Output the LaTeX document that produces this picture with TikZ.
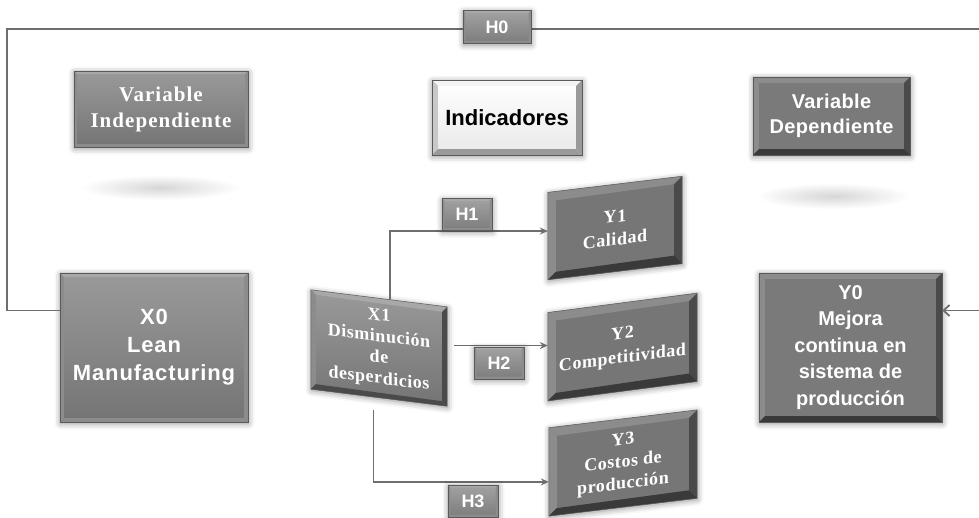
\documentclass[tikz,border=0pt]{standalone}
\usepackage{fontspec}
\setmainfont{Liberation Serif}
\setsansfont{Liberation Sans}
\usetikzlibrary{calc,arrows.meta,shadows.blur}
\definecolor{conncol}{HTML}{6E6E6E}
\definecolor{outl}{HTML}{5A5A5A}
\definecolor{faceTop}{HTML}{9A9A9A}
\definecolor{faceBot}{HTML}{747474}
\definecolor{dface}{HTML}{7A7A7A}
\definecolor{yface}{HTML}{767676}
\definecolor{hTop}{HTML}{A2A2A2}
\definecolor{hBot}{HTML}{7C7C7C}
\definecolor{bvLight}{HTML}{A8A8A8}
\definecolor{bvMid}{HTML}{8C8C8C}
\definecolor{bvDark}{HTML}{4A4A4A}
\definecolor{bvDarker}{HTML}{3A3A3A}
\definecolor{wLight}{HTML}{F4F4F4}
\definecolor{wMid}{HTML}{C8C8C8}
\definecolor{wDark}{HTML}{9A9A9A}
\newcommand\mySF[2]{\sffamily\bfseries\fontsize{#1}{#2}\selectfont}
\newcommand\myRM[2]{\rmfamily\bfseries\fontsize{#1}{#2}\selectfont}
% bevel: node, width, top, left, right, bottom
\newcommand\bev[6]{%
 \fill[#3] (#1.north west) -- (#1.north east) -- ($(#1.north east)+(-#2,#2)$) -- ($(#1.north west)+(#2,#2)$) -- cycle;
 \fill[#4] (#1.north west) -- ($(#1.north west)+(#2,#2)$) -- ($(#1.south west)+(#2,-#2)$) -- (#1.south west) -- cycle;
 \fill[#5] (#1.north east) -- (#1.south east) -- ($(#1.south east)+(-#2,-#2)$) -- ($(#1.north east)+(-#2,#2)$) -- cycle;
 \fill[#6] (#1.south west) -- ($(#1.south west)+(#2,-#2)$) -- ($(#1.south east)+(-#2,-#2)$) -- (#1.south east) -- cycle;
 \draw[outl, line width=0.5pt] (#1.north west) -- (#1.north east) -- (#1.south east) -- (#1.south west) -- cycle;}
\begin{document}
\begin{tikzpicture}[x=1pt,y=-1pt,
  shd/.style={blur shadow={shadow blur radius=6pt, shadow xshift=0.5pt, shadow yshift=-1.5pt, shadow opacity=45}},
  box/.style={shd, inner sep=2pt, align=center, text=white},
  conn/.style={draw=conncol, line width=1.5pt},
  tip/.style={-{Stealth[length=8pt,width=7pt]}},
  hlab/.style={box, top color=hTop, bottom color=hBot, minimum width=50pt, minimum height=32pt, font=\mySF{18}{18}},
]
\useasboundingbox (0,0) rectangle (979,517);

% reflections
\shade[inner color=gray!32, outer color=white] (80,175) rectangle (240,200);
\shade[inner color=gray!32, outer color=white] (756,183) rectangle (910,209);

% header boxes
\node[box, top color=faceTop, bottom color=faceBot, minimum width=174pt, minimum height=76pt,
  font={\myRM{21}{26}\addfontfeatures{LetterSpace=5}}] (vi) at (161,109) {Variable\\Independiente};
\bev{vi}{3}{bvLight}{bvMid}{bvMid}{bvMid}
\node[box, text=black, top color=white, bottom color=wLight!90!gray, minimum width=150pt, minimum height=75pt,
  font={\mySF{22}{24}}] (ind) at (507,117.5) {Indicadores};
\bev{ind}{6}{wLight}{wMid}{wDark}{wDark}
\node[box, fill=dface, minimum width=157pt, minimum height=78pt,
  font={\mySF{20}{25}\addfontfeatures{LetterSpace=2}}] (vd) at (831.5,116) {Variable\\Dependiente};
\bev{vd}{6}{bvMid}{bvMid}{bvDark}{bvDarker}

% main boxes
\node[box, top color=faceTop, bottom color=faceBot, minimum width=188pt, minimum height=149pt,
  font={\mySF{22}{28}\addfontfeatures{LetterSpace=4}}] (x0) at (154,347.5) {X0\\Lean\\Manufacturing};
\bev{x0}{4}{bvLight}{bvMid}{bvMid}{bvMid}
\node[box, fill=dface, minimum width=183pt, minimum height=149pt,
  font={\mySF{20}{26.5}}] (y0) at (850.5,347.5) {Y0\\Mejora\\continua en\\sistema de\\producción};
\bev{y0}{6}{bvMid}{bvMid}{bvDark}{bvDarker}

\node[box, yslant=-0.125, top color=faceTop, bottom color=faceBot, minimum width=136pt, minimum height=99pt,
  font={\myRM{18}{21}\addfontfeatures{LetterSpace=3}}] (x1) at (379,348) {X1\\Disminución\\de\\desperdicios};
\bev{x1}{5}{bvLight}{bvMid}{bvDark}{bvDark}

\node[box, yslant=0.12, fill=yface, minimum width=134pt, minimum height=87pt,
  font={\myRM{18}{23}\addfontfeatures{LetterSpace=3}}] (y1) at (615,228) {Y1\\Calidad};
\bev{y1}{8}{bvMid}{bvMid}{bvDark}{bvDarker}
\node[box, yslant=0.13, fill=yface, minimum width=149pt, minimum height=88pt,
  font={\myRM{18}{24}\addfontfeatures{LetterSpace=3}}] (y2) at (622.5,347) {Y2\\Competitividad};
\bev{y2}{8}{bvMid}{bvMid}{bvDark}{bvDarker}
\node[box, yslant=0.12, fill=yface, minimum width=148pt, minimum height=88pt,
  font={\myRM{18}{22}\addfontfeatures{LetterSpace=3}}] (y3) at (623,463) {Y3\\Costos de\\producción};
\bev{y3}{8}{bvMid}{bvMid}{bvDark}{bvDarker}

% connectors
\coordinate (tl) at (7,29);
\coordinate (tr) at (995,29);
\coordinate (br) at (995,310.5);
\draw[conn, line width=1.8pt, -{Straight Barb[length=6pt,width=11pt]}] ([yshift=37pt]x0.west) -| (tl) -- (tr) -- (br) -- ([yshift=37pt]y0.east);

\coordinate (h1s) at ($(x1.north west)!0.58!(x1.north east)$);
\draw[conn, tip] (h1s) |- ([yshift=5pt]y1.west);
\coordinate (h2s) at ([xshift=7pt,yshift=11pt]x1.east);
\draw[conn, tip] (h2s) -- (h2s -| y2.west);
\coordinate (h3s) at ([yshift=-13pt]$(x1.south west)!0.46!(x1.south east)$);
\draw[conn, tip] (h3s) |- ([yshift=-10pt]y3.west);

% hypothesis labels
\node[hlab, minimum width=68pt, minimum height=33pt] (h0) at (497,27) {H0};
\node[hlab] (h1) at (467,214.5) {H1};
\node[hlab] (h2) at (499,363) {H2};
\node[hlab] (h3) at (473,501) {H3};
\bev{h0}{2.5}{bvLight}{bvMid}{bvMid}{bvMid}
\bev{h1}{2.5}{bvLight}{bvMid}{bvMid}{bvMid}
\bev{h2}{2.5}{bvLight}{bvMid}{bvMid}{bvMid}
\bev{h3}{2.5}{bvLight}{bvMid}{bvMid}{bvMid}
\end{tikzpicture}
\end{document}
